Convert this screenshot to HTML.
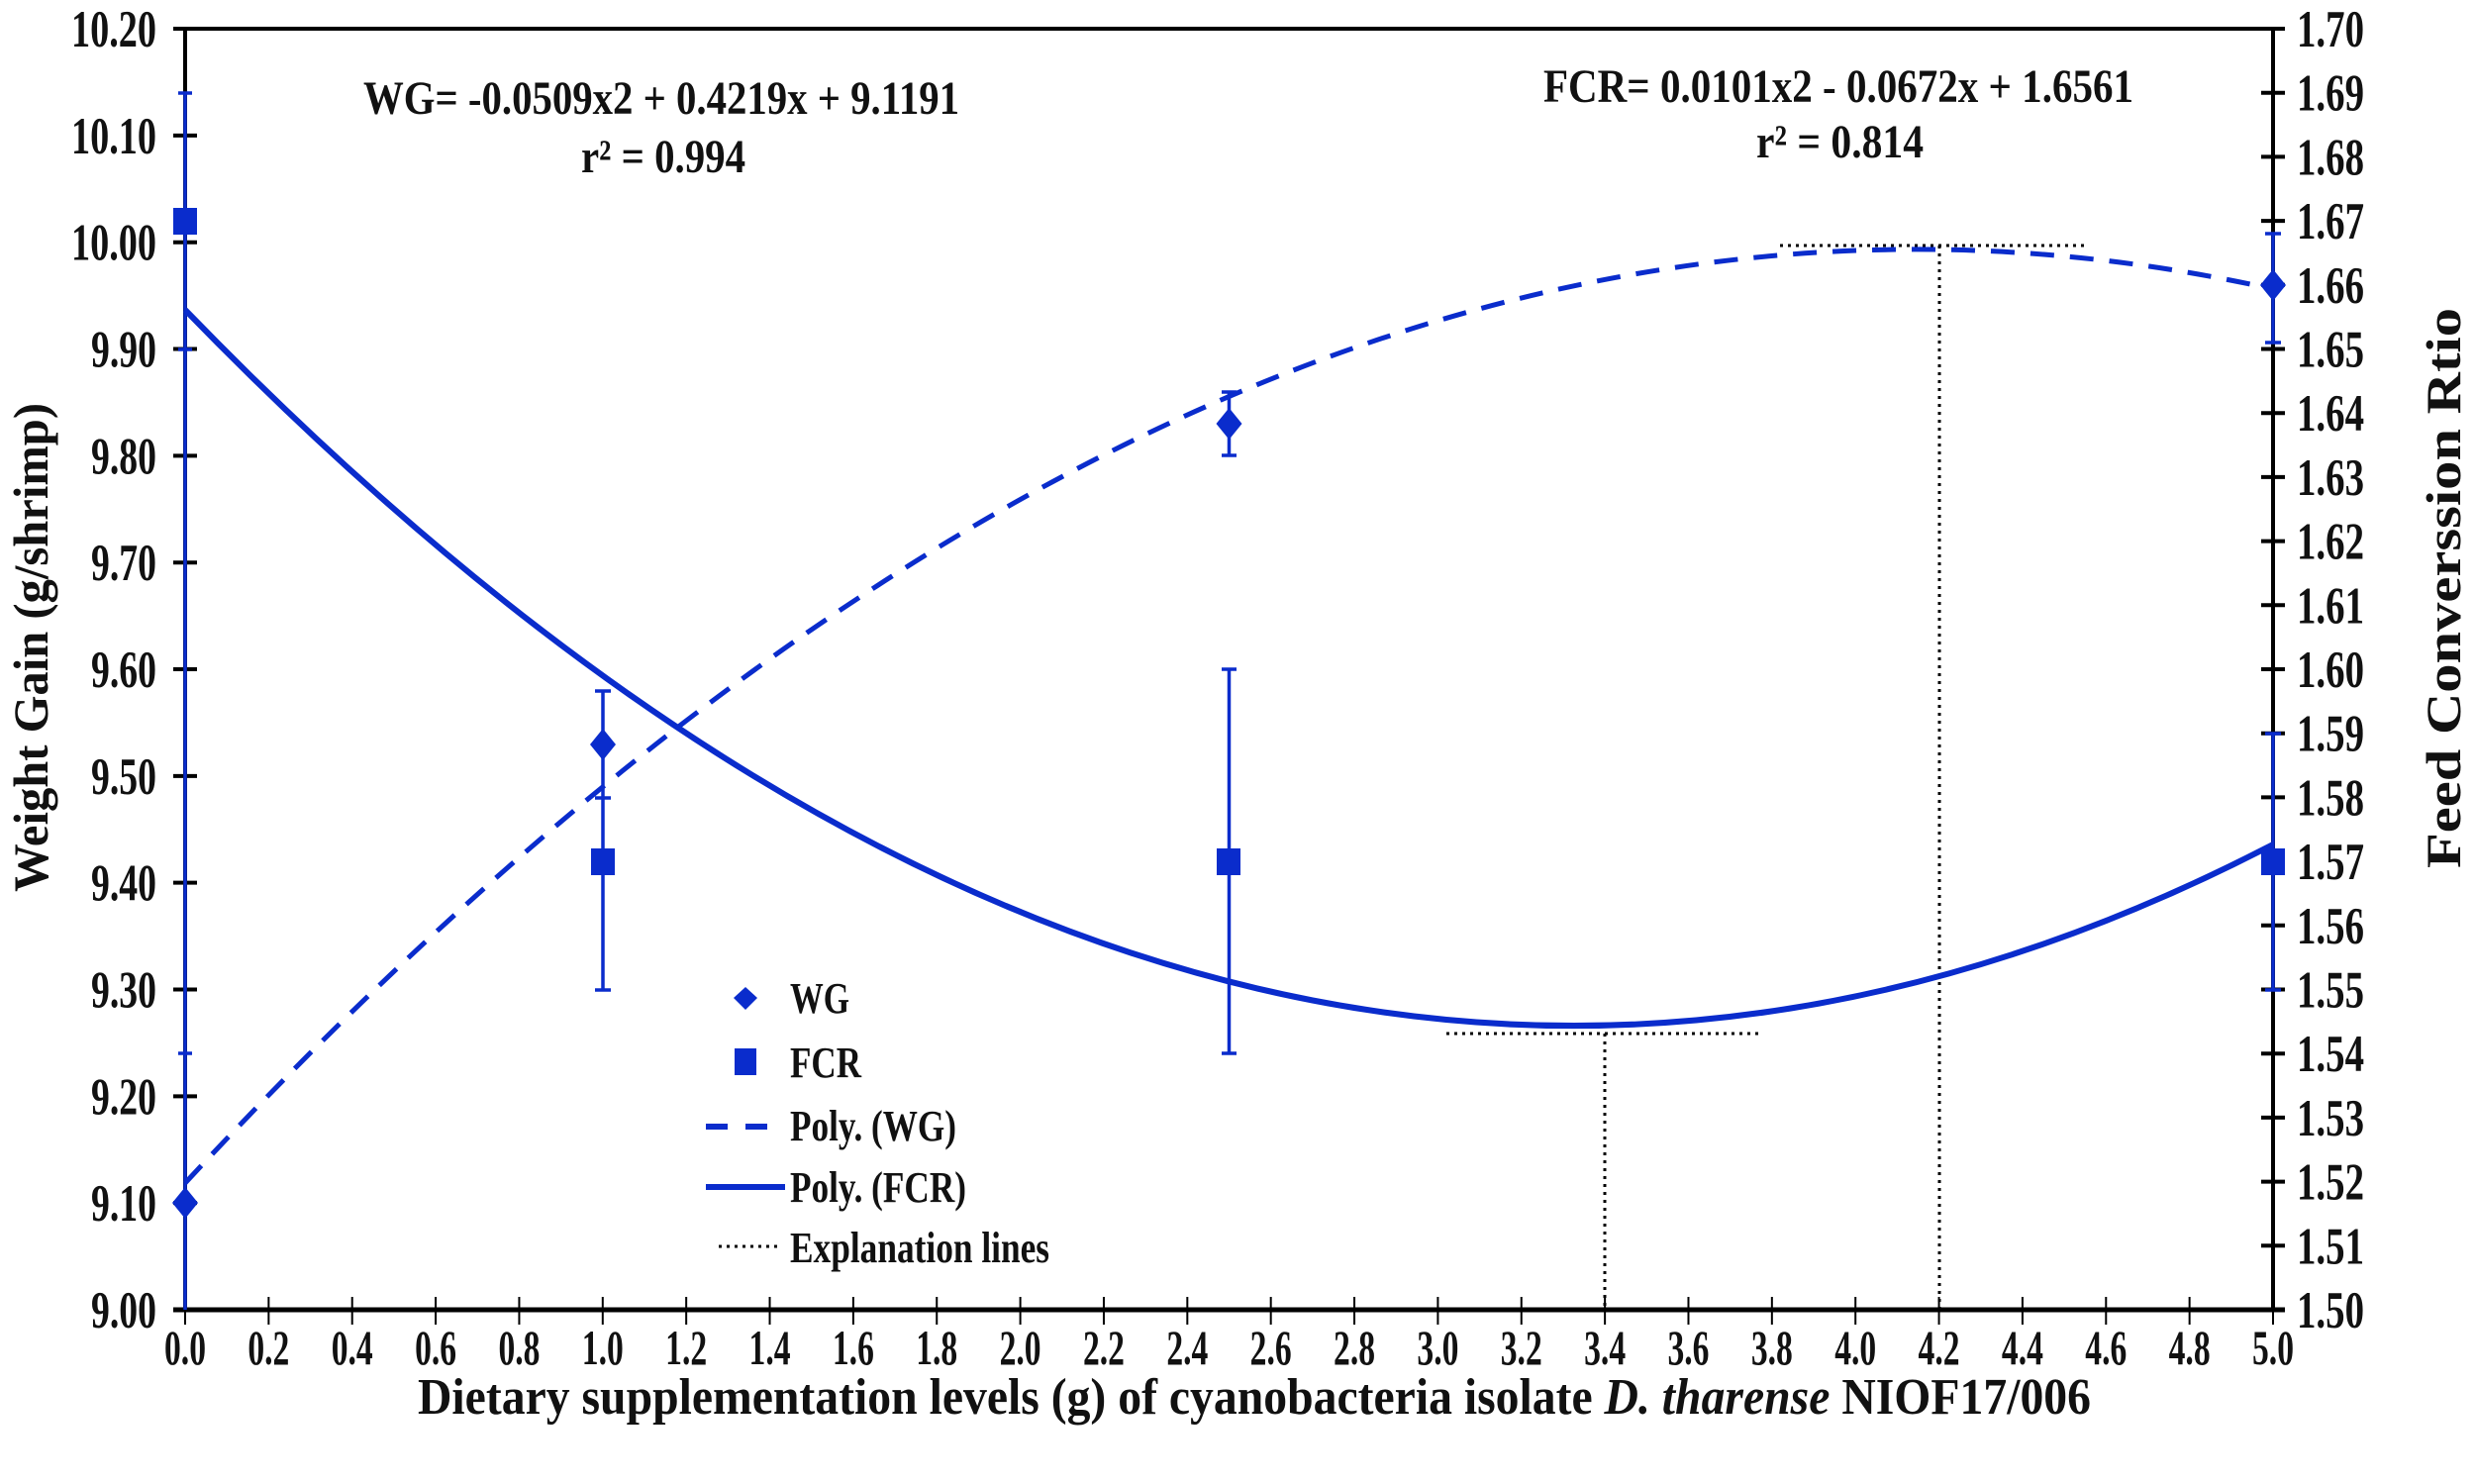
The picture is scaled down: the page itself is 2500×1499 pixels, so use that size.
<!DOCTYPE html>
<html><head><meta charset="utf-8"><style>
html,body{margin:0;padding:0;background:#fff;}
svg{display:block;}
text{font-family:"Liberation Serif",serif;font-weight:bold;fill:#111;}
</style></head><body>
<svg width="2500" height="1499" viewBox="0 0 2500 1499" xmlns="http://www.w3.org/2000/svg">
<line x1="175" y1="29" x2="2308" y2="29" stroke="#000" stroke-width="4"/>
<line x1="175" y1="1323" x2="2308" y2="1323" stroke="#000" stroke-width="5"/>
<line x1="187" y1="29" x2="187" y2="1323" stroke="#000" stroke-width="4"/>
<line x1="2296" y1="29" x2="2296" y2="1323" stroke="#000" stroke-width="4"/>
<g stroke="#000" stroke-width="4" id="lt"></g>
<g stroke="#000" stroke-width="4" id="rt"></g>
<g stroke="#000" stroke-width="2" id="xt"></g>
<g font-size="53" text-anchor="end" id="ll"></g>
<g font-size="53" text-anchor="start" id="rl"></g>
<g font-size="50" text-anchor="middle" id="xl"></g>
<text x="422" y="1428" font-size="52" textLength="1690" lengthAdjust="spacingAndGlyphs">Dietary supplementation levels (g) of cyanobacteria isolate <tspan font-style="italic">D. tharense</tspan> NIOF17/006</text>
<text transform="translate(48,901) rotate(-90)" font-size="50" textLength="494" lengthAdjust="spacingAndGlyphs">Weight Gain (g/shrimp)</text>
<text transform="translate(2485,877) rotate(-90)" font-size="50" textLength="566" lengthAdjust="spacingAndGlyphs">Feed Converssion Rtio</text>
<g font-size="48">
<text x="367" y="115" textLength="602" lengthAdjust="spacingAndGlyphs">WG= -0.0509x2 + 0.4219x + 9.1191</text>
<text x="587" y="174" textLength="166" lengthAdjust="spacingAndGlyphs">r² = 0.994</text>
<text x="1559" y="103" textLength="596" lengthAdjust="spacingAndGlyphs">FCR= 0.0101x2 - 0.0672x + 1.6561</text>
<text x="1774" y="159" textLength="169" lengthAdjust="spacingAndGlyphs">r² = 0.814</text>
</g>
<g stroke="#000" stroke-width="3" stroke-dasharray="3,5" fill="none">
<line x1="1461" y1="1044" x2="1781" y2="1044"/>
<line x1="1621" y1="1044" x2="1621" y2="1323"/>
<line x1="1798" y1="248" x2="2110" y2="248"/>
<line x1="1959" y1="248" x2="1959" y2="1323"/>
</g>
<path d="M187,1195 Q1241.5,57.5 2296,292" stroke="#0a2ccc" stroke-width="5" fill="none" stroke-dasharray="24,16"/>
<path d="M187,313 Q1241.5,1400 2296,853" stroke="#0a2ccc" stroke-width="6" fill="none"/>
<g stroke="#0a2ccc" stroke-width="3.5" fill="none">
<line x1="187" y1="94" x2="187" y2="1323"/>
<line x1="180" x2="194" y1="94" y2="94"/><line x1="180" x2="194" y1="353" y2="353"/><line x1="180" x2="194" y1="1064" y2="1064"/>
<line x1="609" y1="698" x2="609" y2="1000"/>
<line x1="601" x2="617" y1="698" y2="698"/><line x1="601" x2="617" y1="806" y2="806"/><line x1="601" x2="617" y1="1000" y2="1000"/>
<line x1="1241.5" y1="396" x2="1241.5" y2="460"/>
<line x1="1234" x2="1249" y1="396" y2="396"/><line x1="1234" x2="1249" y1="460" y2="460"/>
<line x1="1241.5" y1="676" x2="1241.5" y2="1064"/>
<line x1="1234" x2="1249" y1="676" y2="676"/><line x1="1234" x2="1249" y1="1064" y2="1064"/>
<line x1="2296" y1="236" x2="2296" y2="346"/>
<line x1="2288" x2="2304" y1="236" y2="236"/><line x1="2288" x2="2304" y1="346" y2="346"/>
<line x1="2296" y1="741" x2="2296" y2="1000"/>
<line x1="2288" x2="2304" y1="741" y2="741"/><line x1="2288" x2="2304" y1="1000" y2="1000"/>
</g>
<g fill="#0a2ccc">
<rect x="175" y="210" width="24" height="27"/>
<rect x="597" y="857" width="24" height="27"/>
<rect x="1229" y="857" width="24" height="27"/>
<rect x="2284" y="857" width="24" height="27"/>
<polygon points="187,1199 200,1215 187,1231 174,1215"/>
<polygon points="609,736 622,752 609,768 596,752"/>
<polygon points="1241.5,412 1254.5,428 1241.5,444 1228.5,428"/>
<polygon points="2296,272 2309,288 2296,304 2283,288"/>
</g>
<g fill="#0a2ccc">
<polygon points="753,997 765,1008 753,1020 741,1008"/>
<rect x="742" y="1059" width="22" height="27"/>
</g>
<g stroke="#0a2ccc" stroke-width="6">
<line x1="713" y1="1138" x2="735" y2="1138"/><line x1="753" y1="1138" x2="775" y2="1138"/>
<line x1="713" y1="1199" x2="793" y2="1199"/>
</g>
<line x1="726" y1="1259" x2="790" y2="1259" stroke="#000" stroke-width="3" stroke-dasharray="3,5"/>
<g font-size="44">
<text x="798" y="1023" textLength="60" lengthAdjust="spacingAndGlyphs">WG</text>
<text x="798" y="1088" textLength="72" lengthAdjust="spacingAndGlyphs">FCR</text>
<text x="798" y="1152" textLength="168" lengthAdjust="spacingAndGlyphs">Poly. (WG)</text>
<text x="798" y="1214" textLength="178" lengthAdjust="spacingAndGlyphs">Poly. (FCR)</text>
<text x="798" y="1275" textLength="262" lengthAdjust="spacingAndGlyphs">Explanation lines</text>
</g>
<script>
(function(){
var ns="http://www.w3.org/2000/svg";
function g(id){return document.getElementById(id);}
function ln(p,x1,y1,x2,y2){var l=document.createElementNS(ns,'line');l.setAttribute('x1',x1);l.setAttribute('x2',x2);l.setAttribute('y1',y1);l.setAttribute('y2',y2);p.appendChild(l);}
function tx(p,x,y,s,w){var t=document.createElementNS(ns,'text');t.setAttribute('x',x);t.setAttribute('y',y);if(w){t.setAttribute('textLength',w);t.setAttribute('lengthAdjust','spacingAndGlyphs');}t.textContent=s;p.appendChild(t);}
for(var k=0;k<=12;k++){
 var yl=1323-k*107.83;
 if(k>0&&k<12)ln(g('lt'),175,yl,199,yl);
 var s=(9+k*0.1).toFixed(2);
 tx(g('ll'),158,yl+18,s,s.length>4?86:66);
}
for(var i=0;i<=20;i++){
 var y=1323-i*64.7;
 if(i>0&&i<20)ln(g('rt'),2284,y,2308,y);
 tx(g('rl'),2320,y+18,(1.5+i*0.01).toFixed(2),68);
}
for(var j=0;j<=25;j++){
 var x=187+j*84.36;
 ln(g('xt'),x,1310,x,1338);
 tx(g('xl'),x,1378,(j*0.2).toFixed(1),42);
}
})();
</script>
</svg>
</body></html>
